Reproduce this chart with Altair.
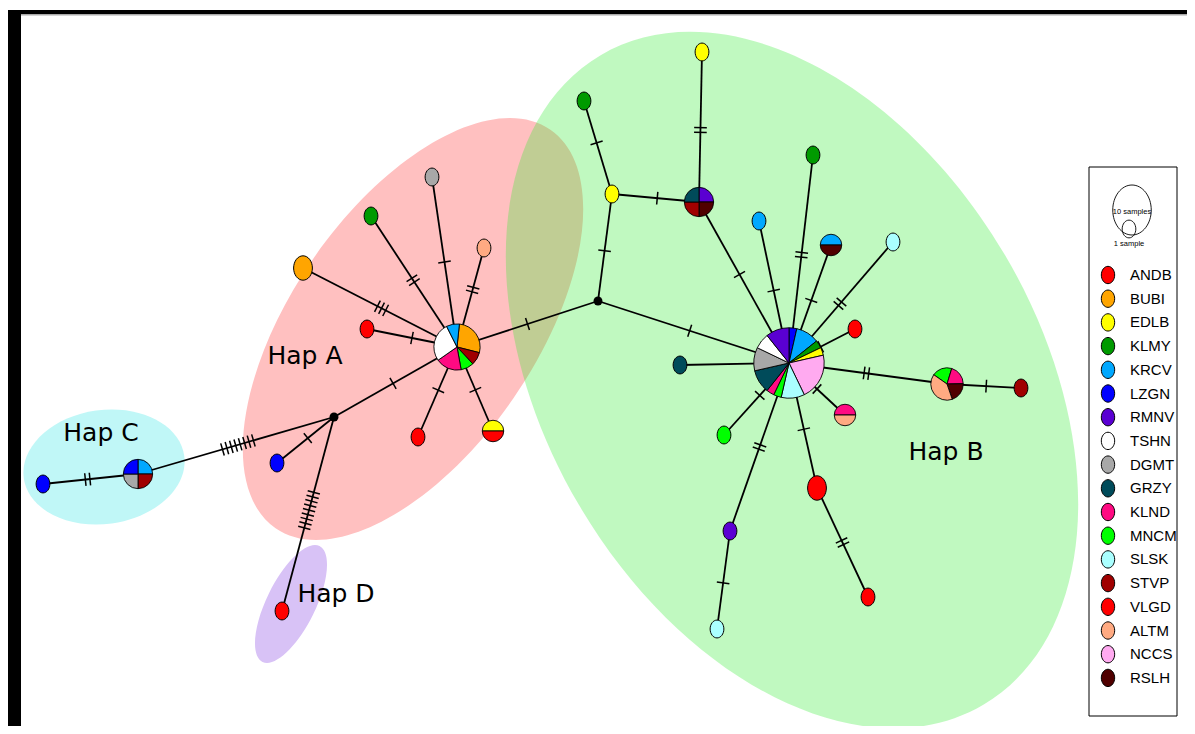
import math
import altair as alt
import pandas as pd

# ---------------- data ----------------
pops = ["ANDB", "BUBI", "EDLB", "KLMY", "KRCV", "LZGN", "RMNV", "TSHN", "DGMT",
        "GRZY", "KLND", "MNCM", "SLSK", "STVP", "VLGD", "ALTM", "NCCS", "RSLH"]
pop_colors = ["#ff0000", "#ffa500", "#ffff00", "#009a00", "#00a8ff", "#0000ff",
              "#5a00d2", "#ffffff", "#a8a8a8", "#004b5a", "#ff0a82", "#00ff00",
              "#aaffff", "#a00000", "#ff0000", "#ffaa82", "#ffaaf0", "#500000"]

# haplotype nodes (layout position in the network picture)
node_id = ["A0", "A1", "A2", "A3", "A4", "A5", "A6", "A7", "A8",
           "C0", "C1", "D1",
           "B0", "B1", "B2", "B3", "B4", "B5", "B6", "B7", "B8", "B9",
           "B10", "B11", "B12", "B13", "B14", "B15", "B16", "B17", "B18"]
node_x = [457, 432, 371, 484, 303, 367, 418, 493, 277,
          138, 43, 282,
          789, 612, 584, 699, 702, 813, 759, 831, 893, 855,
          680, 947, 1021, 724, 845, 817, 868, 730, 717]
node_y = [347, 177, 216, 248, 268, 329, 437, 431, 463,
          474, 484, 611,
          363, 194, 101, 202, 52, 155, 221, 245, 242, 329,
          365, 384, 388, 435, 415, 488, 597, 531, 629]
node_pops = [["BUBI", "STVP", "MNCM", "KLND", "TSHN", "KRCV"], ["DGMT"], ["KLMY"], ["ALTM"],
             ["BUBI"], ["ANDB"], ["ANDB"], ["EDLB", "ANDB"], ["LZGN"],
             ["KRCV", "STVP", "DGMT", "LZGN"], ["LZGN"], ["ANDB"],
             ["LZGN", "KRCV", "KLMY", "EDLB", "NCCS", "SLSK", "MNCM", "KLND", "GRZY", "DGMT", "TSHN", "RMNV"],
             ["EDLB"], ["KLMY"], ["RMNV", "RSLH", "STVP", "GRZY"], ["EDLB"], ["KLMY"], ["KRCV"],
             ["KRCV", "RSLH"], ["SLSK"], ["VLGD"], ["GRZY"], ["MNCM", "KLND", "RSLH", "ALTM"],
             ["STVP"], ["MNCM"], ["KLND", "ALTM"], ["VLGD"], ["VLGD"], ["RMNV"], ["SLSK"]]
node_counts = [[3, 1, 1, 2, 3, 1], [1], [1], [1], [2], [1], [1], [1, 1], [1],
               [1, 1, 1, 1], [1], [1],
               [1, 3, 1, 1, 6, 3, 1, 1, 3, 3, 2, 3],
               [1], [1], [1, 1, 1, 1], [1], [1], [1], [1, 1], [1], [1],
               [1], [1, 1, 1, 2], [1], [1], [1, 1], [2], [1], [1], [1]]
pie_start_deg = [6, 0, 0, 0, 0, 0, 0, 270, 0,
                 0, 0, 0,
                 0, 0, 0, 0, 0, 0, 0, 270, 0, 0,
                 0, 305, 0, 0, 270, 0, 0, 0, 0]

# median vectors (unsampled haplotypes)
junction_id = ["JA", "JB"]
junction_x = [334, 598]
junction_y = [417, 301]

# links: (from, to, mutation marks, position of marks along link)
edge_from = ["A0", "A0", "A0", "A0", "A0", "A0", "A0", "A0", "JA", "JA", "JA", "C0", "A0",
             "JB", "B1", "B1", "B3", "JB", "B3", "B6", "B5", "B7", "B8", "B9", "B10",
             "B11", "B11", "B13", "B14", "B15", "B15", "B17", "B17"]
edge_to = ["A1", "A2", "A4", "A3", "A5", "A6", "A7", "JA", "A8", "C0", "D1", "C1", "JB",
           "B1", "B2", "B3", "B4", "B0", "B0", "B0", "B0", "B0", "B0", "B0", "B0",
           "B0", "B12", "B0", "B0", "B0", "B16", "B0", "B18"]
edge_marks = [1, 2, 3, 2, 1, 1, 1, 1, 1, 8, 9, 2, 1,
              1, 1, 1, 2, 1, 1, 1, 2, 1, 2, 1, 0,
              2, 1, 1, 1, 1, 2, 2, 1]
edge_frac = [0.5, 0.51, 0.49, 0.58, 0.5, 0.48, 0.51, 0.52, 0.46, 0.49, 0.48, 0.53, 0.5,
             0.47, 0.55, 0.52, 0.48, 0.48, 0.45, 0.49, 0.48, 0.47, 0.51, 0.52, 0.5,
             0.51, 0.53, 0.55, 0.5, 0.47, 0.5, 0.5, 0.53]

# haplogroup clouds
grp_name = ["Hap C", "Hap D", "Hap A", "Hap B"]
grp_x = [104, 291, 413, 792]
grp_y = [467, 604, 329, 380]
grp_major = [81, 64.6, 242, 377]
grp_minor = [57, 24.5, 122, 247]
grp_angle = [352, 296.2, 304.6, 59.5]
grp_label_x = [101, 336, 305, 946]
grp_label_y = [433, 594, 356, 452]

# ---------------- helpers (styles) ----------------
def ell_path(rx, ry):
    k = 0.5523
    return (f"M0,{-ry} C{k*rx:.4f},{-ry} {rx},{-k*ry:.4f} {rx},0 "
            f"C{rx},{k*ry:.4f} {k*rx:.4f},{ry} 0,{ry} "
            f"C{-k*rx:.4f},{ry} {-rx},{k*ry:.4f} {-rx},0 "
            f"C{-rx},{-k*ry:.4f} {-k*rx:.4f},{-ry} 0,{-ry} Z")

NODE_SHAPE = ell_path(0.77, 1)
TICK_SHAPE = "M0,-1L0,1"

W, H = 1179, 718
xs = alt.Scale(domain=[8, 8 + W], nice=False, zero=False)
ys = alt.Scale(domain=[8, 8 + H], nice=False, zero=False, reverse=True)


def X(f):
    return alt.X(f, type="quantitative", scale=xs, axis=None)


def Y(f):
    return alt.Y(f, type="quantitative", scale=ys, axis=None)


color_scale = alt.Scale(domain=pops, range=pop_colors)

# ---------------- tables ----------------
pos = {n: (x, y) for n, x, y in zip(node_id, node_x, node_y)}
pos.update({n: (x, y) for n, x, y in zip(junction_id, junction_x, junction_y)})

single_rows, pie_rows = [], []
for i, n in enumerate(node_id):
    if len(node_pops[i]) == 1:
        single_rows.append(dict(node=n, x=node_x[i], y=node_y[i], pop=node_pops[i][0],
                                count=node_counts[i][0]))
    else:
        for k, (p, c) in enumerate(zip(node_pops[i], node_counts[i])):
            pie_rows.append(dict(node=n, x=node_x[i], y=node_y[i], pop=p, count=c,
                                 order=k, start=pie_start_deg[i]))
singles = pd.DataFrame(single_rows)
pies = pd.DataFrame(pie_rows)

edge_rows, tick_rows = [], []
for a, b, m, f in zip(edge_from, edge_to, edge_marks, edge_frac):
    x1, y1 = pos[a]
    x2, y2 = pos[b]
    edge_rows.append(dict(x=x1, y=y1, x2=x2, y2=y2))
    dx, dy = x2 - x1, y2 - y1
    L = math.hypot(dx, dy)
    ux, uy = dx / L, dy / L
    ang = math.degrees(math.atan2(dy, dx)) % 360
    for k in range(m):
        off = (k - (m - 1) / 2) * 4.6
        tick_rows.append(dict(x=x1 + f * dx + off * ux, y=y1 + f * dy + off * uy, ang=ang))
edges = pd.DataFrame(edge_rows)
ticks = pd.DataFrame(tick_rows)

groups = pd.DataFrame(dict(name=grp_name, x=grp_x, y=grp_y, angle=grp_angle,
                           size=[(2 * a) ** 2 for a in grp_major],
                           lx=grp_label_x, ly=grp_label_y))
grp_shapes = [ell_path(1, b / a) for a, b in zip(grp_major, grp_minor)]
junctions = pd.DataFrame(dict(x=junction_x, y=junction_y))
legend = pd.DataFrame(dict(pop=pops, i=list(range(len(pops)))))

# ---------------- layers ----------------
base_grp = alt.Chart(groups)
clouds = base_grp.transform_filter("datum.name != 'Hap B'").mark_point(
    filled=True, opacity=1, strokeWidth=0).encode(
    x=X("x"), y=Y("y"),
    shape=alt.Shape("name:N", scale=alt.Scale(domain=grp_name, range=grp_shapes), legend=None),
    color=alt.Color("name:N", scale=alt.Scale(domain=grp_name,
                                               range=["#c0f7f7", "#d8c2f6", "#ffc0c0", "#2deb2d"]),
                    legend=None),
    size=alt.Size("size:Q", scale=None),
    angle=alt.Angle("angle:Q", scale=None),
)
cloud_b = base_grp.transform_filter("datum.name == 'Hap B'").mark_point(
    filled=True, fillOpacity=0.3, strokeWidth=0, color="#2deb2d").encode(
    x=X("x"), y=Y("y"),
    shape=alt.Shape("name:N", scale=alt.Scale(domain=grp_name, range=grp_shapes), legend=None),
    size=alt.Size("size:Q", scale=None),
    angle=alt.Angle("angle:Q", scale=None),
)

links = alt.Chart(edges).mark_rule(color="black", strokeWidth=1.8).encode(
    x=X("x"), y=Y("y"), x2="x2", y2="y2")

marks = alt.Chart(ticks).mark_point(shape=TICK_SHAPE, filled=False, color="black",
                                     strokeWidth=1.5, opacity=1, size=160).encode(
    x=X("x"), y=Y("y"), angle=alt.Angle("ang:Q", scale=None))

single_nodes = alt.Chart(singles).mark_point(shape=NODE_SHAPE, filled=True, opacity=1,
                                              stroke="black", strokeWidth=1).encode(
    x=X("x"), y=Y("y"),
    fill=alt.Fill("pop:N", scale=color_scale, legend=None),
    size=alt.Size("count:Q", scale=alt.Scale(type="pow", exponent=0.9, domain=[0, 28],
                                             range=[0, 6400]), legend=None),
)

pie_nodes = alt.Chart(pies).transform_joinaggregate(
    tot="sum(count)", groupby=["node"]
).transform_window(
    cum="sum(count)", groupby=["node"], sort=[alt.SortField("order")], frame=[None, 0]
).transform_calculate(
    t0="datum.start*PI/180 + 2*PI*(datum.cum - datum.count)/datum.tot",
    t1="datum.start*PI/180 + 2*PI*datum.cum/datum.tot",
).mark_arc(stroke="black", strokeWidth=0.9).encode(
    x=X("x"), y=Y("y"),
    theta=alt.Theta("t0:Q", scale=None), theta2="t1:Q",
    radius=alt.Radius("tot:Q", scale=alt.Scale(type="pow", exponent=0.45, domain=[0, 28],
                                               range=[0, 35.2])),
    fill=alt.Fill("pop:N", scale=color_scale, legend=None),
)

junction_dots = alt.Chart(junctions).mark_point(filled=True, color="black", opacity=1,
                                                 size=80, shape="circle").encode(
    x=X("x"), y=Y("y"))

labels = base_grp.mark_text(font="DejaVu Sans", fontSize=25, color="black",
                            align="center", baseline="middle").encode(
    x=X("lx"), y=Y("ly"), text="name:N")

# legend box
leg_box = alt.Chart(legend).transform_aggregate(n="count()").mark_rect(
    fill="white", stroke="black", strokeWidth=1).encode(
    x=alt.value(1089 - 8), x2=alt.value(1177 - 8), y=alt.value(167 - 8), y2=alt.value(716 - 8))

leg_dots = alt.Chart(legend).transform_calculate(ly="275 + datum.i*23.7").mark_point(
    shape=NODE_SHAPE, filled=True, opacity=1, stroke="black", strokeWidth=1, size=300).encode(
    x=alt.value(1108 - 8), y=Y("ly:Q"),
    fill=alt.Fill("pop:N", scale=color_scale, legend=None))

leg_text = alt.Chart(legend).transform_calculate(ly="275 + datum.i*23.7").mark_text(
    font="Liberation Sans", fontSize=15, align="left", baseline="middle", color="black").encode(
    x=alt.value(1130 - 8), y=Y("ly:Q"), text="pop:N")

key_sizes = pd.DataFrame(dict(lab=["10 samples", "1 sample"], n=[10, 1]))
key_circ = alt.Chart(key_sizes).transform_calculate(
    ky="datum.n == 10 ? 210 : 229", kx="datum.n == 10 ? 1132 : 1129"
).mark_point(shape=NODE_SHAPE, filled=False, color="black", strokeWidth=0.9, opacity=1).encode(
    x=X("kx:Q"), y=Y("ky:Q"),
    size=alt.Size("n:Q", scale=alt.Scale(type="pow", exponent=0.9, domain=[0, 10],
                                         range=[0, 2500]), legend=None))
key_text = alt.Chart(key_sizes).transform_calculate(
    ty="datum.n == 10 ? 212 : 244", tx="datum.n == 10 ? 1132 : 1129"
).mark_text(font="Liberation Sans", fontSize=7.5, align="center", baseline="middle",
            color="black").encode(x=X("tx:Q"), y=Y("ty:Q"), text="lab:N")

# frame
one = pd.DataFrame(dict(k=[0]))
frame_left = alt.Chart(one).mark_rect(color="black").encode(
    x=alt.value(0), x2=alt.value(13), y=alt.value(2), y2=alt.value(H))
frame_top = alt.Chart(one).mark_rect(color="black").encode(
    x=alt.value(0), x2=alt.value(W), y=alt.value(2), y2=alt.value(6))
frame_grey = alt.Chart(one).mark_rect(color="#aaaaaa").encode(
    x=alt.value(13), x2=alt.value(W), y=alt.value(6), y2=alt.value(7.5))

chart = alt.layer(
    clouds, cloud_b, links, marks, single_nodes, pie_nodes, junction_dots, labels,
    leg_box, key_circ, key_text, leg_dots, leg_text, frame_left, frame_top, frame_grey
).resolve_scale(
    fill="shared", shape="independent", size="independent", color="independent"
).properties(
    width=W, height=H, padding=0, autosize="none", background="white"
).configure_view(stroke=None)

chart.save("out.html", embed_options={"renderer": "svg", "actions": False})
